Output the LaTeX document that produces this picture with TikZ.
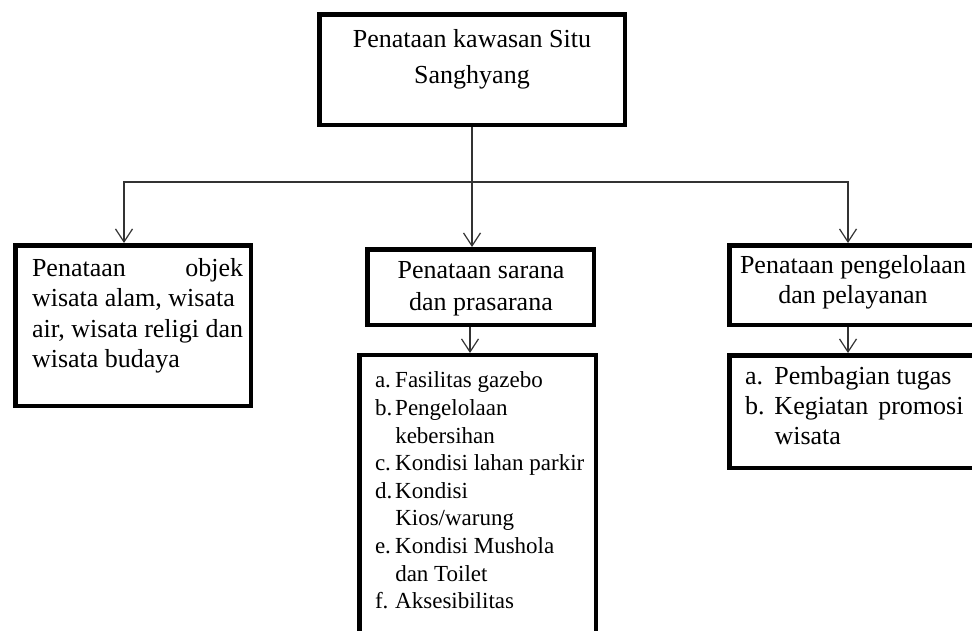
\documentclass[tikz,border=0pt]{standalone}
\usepackage{fontspec}
\setmainfont{Liberation Serif}
\usetikzlibrary{arrows.meta, calc}
\tikzstyle{kotak} = [rectangle, draw, line width=4.5pt, fill=white, inner sep=0pt, anchor=center]
\tikzstyle{teks} = [inner sep=0pt, outer sep=0pt, font=\fontsize{26}{30}\selectfont]
\tikzstyle{panah} = [draw, -{Straight Barb[length=13pt,width=17pt]}, line width=1.2pt, black!80]

\begin{document}
\begin{tikzpicture}[x=1pt, y=-1pt]
    \path[use as bounding box, fill=white] (0,0) rectangle (972,630);
    \clip (0,0) rectangle (972,630);

    % judul
    \node[kotak, minimum width=305.5pt, minimum height=110.5pt] at (472,69.5) (judul) {};
    \node[teks, anchor=north, align=center, font=\fontsize{26}{36}\selectfont] at (472,29.2) (judultxt) {Penataan kawasan Situ\\Sanghyang};

    % objek wisata
    \node[kotak, minimum width=235.5pt, minimum height=160.5pt] at (133,325.5) (objek) {};
    \node[teks, anchor=north west, font=\fontsize{26}{30.6}\selectfont] at (32,254.6) (objektxt) {\begin{tabular}{@{}l@{}}
        Penataan\hfill objek\\
        wisata alam, wisata\\
        air, wisata religi dan\\
        wisata budaya
    \end{tabular}};

    % sarana dan prasarana
    \node[kotak, minimum width=226.5pt, minimum height=75.5pt] at (480.5,287) (sarana) {};
    \node[teks, anchor=north, align=center, font=\fontsize{26}{32}\selectfont] at (481,261.8) (saranatxt) {Penataan sarana\\dan prasarana};
    \node[kotak, minimum width=236.5pt, minimum height=324.75pt] at (477.5,517.6) (rincian) {};
    \node[teks, anchor=north west, font=\fontsize{23}{27.6}\selectfont] at (375,368.5) (rinciantxt) {\begin{tabular}{@{}l@{\hspace{3pt}}l@{}}
        a. & Fasilitas gazebo\\
        b. & Pengelolaan\\
           & kebersihan\\
        c. & Kondisi lahan parkir\\
        d. & Kondisi\\
           & Kios/warung\\
        e. & Kondisi Mushola\\
           & dan Toilet\\
        f. & Aksesibilitas
    \end{tabular}};

    % pengelolaan dan pelayanan
    \node[kotak, minimum width=250.5pt, minimum height=79.5pt] at (854.5,285) (kelola) {};
    \node[teks, anchor=north, align=center, font=\fontsize{26}{30}\selectfont] at (853,255.2) (kelolatxt) {Penataan pengelolaan\\dan pelayanan};
    \node[kotak, minimum width=250.5pt, minimum height=112.5pt] at (854.5,411.5) (tugas) {};
    \node[teks, anchor=north west] at (745,363) (tugastxt) {\begin{tabular}{@{}l@{\hspace{10pt}}l@{}}
        a. & Pembagian tugas\\
        b. & \makebox[189pt][s]{Kegiatan\hfill promosi}\\
           & wisata
    \end{tabular}};

    % cabang
    \coordinate (cabang) at (472,182);
    \draw[panah] (judul.south) -- (judul.south |- sarana.north);
    \draw[panah] (cabang) -| ([xshift=-9pt]objek.north);
    \draw[panah] (cabang) -| ([xshift=-6.5pt]kelola.north);
    \draw[panah] ([xshift=-10.5pt]sarana.south) -- ([xshift=-10.5pt]sarana.south |- rincian.north);
    \draw[panah] ([xshift=-6.5pt]kelola.south) -- ([xshift=-6.5pt]tugas.north);
\end{tikzpicture}
\end{document}
